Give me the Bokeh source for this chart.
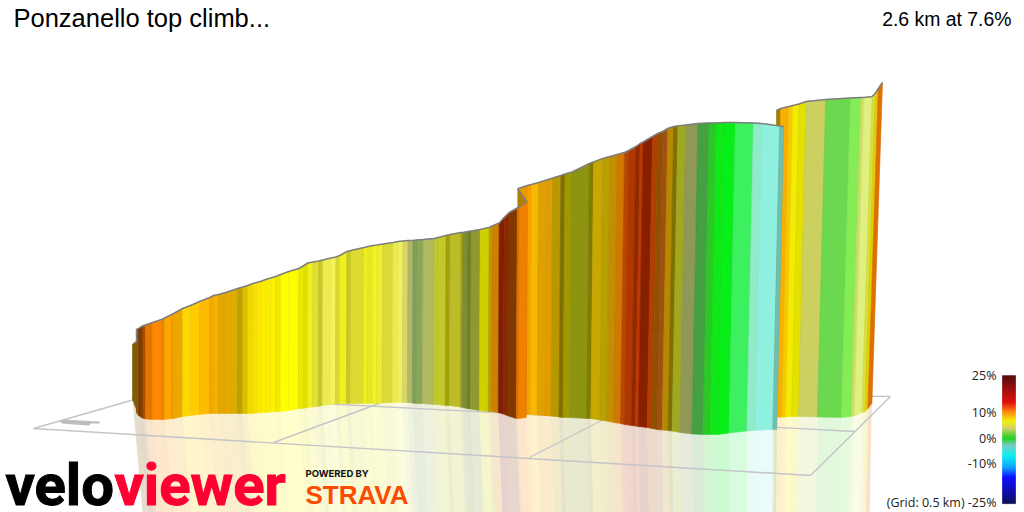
import numpy as np
from bokeh.plotting import figure
from bokeh.models import Range1d
from bokeh.core.properties import value
from bokeh.embed import file_html
from bokeh.resources import INLINE

title_text = "Ponzanello top climb..."
summary_text = "2.6 km at 7.6%"
legend_labels = ["25%", "10%", "0%", "-10%", "(Grid: 0.5 km) -25%"]
legend_label_y = [375, 412, 438, 463, 502]

# first wall section: x position, upper edge, foot, colour of strip to the right
sec1_x = [132,136,136,138,141,143,145,152,161,164,171,173,182,190,199,209,213,218,225,231,237,242,247,252,256,261,265,270,275,280,288,298,303,307,312,318,322,330,335,339,346,350,363,367,372,376,382,392,397,402,407,412,416,422,433,437,445,449,460,462,467,470,479,488,491,498,503,508,516,518,526]
sec1_top = [344,341,329,328,326,325,324.5,322,319,317.5,314,313,308,305,301,297,295,294,292,290,288,286.5,285,283,282,280.5,279,277.5,276,274,271,268,265,262.5,261.5,260.5,259.5,257.5,256.5,255,251,250,247,246,245,244.5,243.5,242,241,240.5,240,240,239.5,239,238,237,235,234,232,232,231,230.5,229,227,225.5,222.5,217,212,207.5,206.5,201]
sec1_base = [399,409,412,415,417,418,418.5,419,419,419,418,418,416,415,414,413,413,413,413,413,413,413,413,413,412.5,412,412,411.5,411,411,410,408,408,407,406.5,406,405,404,403.5,403,403,403,403,403,403,403,402.5,402,402,402,402,402.5,403,403,404,404,405,405,406.5,407,408,408.5,410,411,411,412,413.5,415.5,418,418,417]
sec1_color = ["#7A6000","#7A6000","#A05800","#7A3A00","#8A4000","#A85000","#E07800","#FF8800","#E88800","#FFA500","#F09C00","#EDA800","#FFD700","#FFCC00","#FFBB00","#EFA800","#F8B000","#E0A800","#E8A800","#D8AE00","#C0A000","#D8C000","#F0D800","#F8E000","#F8E800","#FFEE00","#F8F000","#FFF000","#F0E800","#FFFF00","#FFFC00","#E8E800","#E0E000","#F0F020","#E0E030","#C8C820","#ECEC50","#F4F458","#D8D830","#F0F020","#C8C820","#DCDC30","#F0F020","#E8E820","#F4F420","#ECEC30","#DADA38","#ECEC50","#F0F060","#D8D868","#B0B868","#80A058","#88A858","#B0B860","#C0C830","#C4C828","#A0A010","#BCBC28","#A0A018","#808C30","#707C28","#909830","#D0D000","#B8A000","#D08000","#802000","#8C2800","#803800","#E07000","#F08000"]

# second section, which starts behind the fold of the first
sec2_x = [517,526,530,537,545,551,559,563,570,587,591,600,607,614,621,625,632,636,639,648,653,658,663,669,673,681,693,704,711,719,730,748,756,774,778]
sec2_top = [188,185,184,182,179.5,177.5,175,173.5,171.5,163,161.5,158,156,154,152,150,146,143,141.5,136,133,131,128,126,125.5,124.5,123,122.5,122.5,122,122,122.5,123,125.5,126]
sec2_base = [414,414,414,414.5,415,415.5,416.5,417,417,418,418,419.5,420.5,422,423,424,425,425.5,426,427,428,429,429.5,430,430.5,432,433.5,434,434,434,432.5,430.5,430,429,429]
sec2_color = ["#E89800","#F8A000","#F8B800","#E0A000","#E09C00","#B89800","#807000","#A09800","#8C9410","#807C00","#C8A800","#B8A000","#C09000","#D07800","#B84800","#B03800","#902800","#C03800","#882000","#B04000","#905000","#A05010","#B88800","#807000","#A0A820","#909858","#44A040","#2CC828","#10E818","#08EE18","#3CF060","#90ECC8","#90F0E0","#70C0B0"]

# third section, behind the second
sec3_x = [776,775,783,787,793,800,819,843,853,856,864,867,870,874]
sec3_top = [110,108,106,105,103.5,101,99,97.5,97,97,96,93,88,82]
sec3_base = [416,417,416.5,416.5,416,416,416.5,417,416,415.5,412,411,408,403]
sec3_color = ["#A08000","#F8B000","#F8C800","#F4EC00","#E4E000","#CCD060","#6CD850","#84EC54","#C8E060","#E0F080","#D8E040","#E0D000","#E07000"]

fold_x = [517, 526, 517]
fold_y = [188, 201, 207]
fold_color = "#B08000"

# floor grid lines: [x0, y0, x1, y1]
grid_x0 = [33, 810, 33, 150, 273, 529, 890]
grid_y0 = [428, 475, 428, 394, 442, 457, 396]
grid_x1 = [810, 890, 200, 855, 400, 640, 700]
grid_y1 = [475, 396, 380, 431, 395, 400, 394]
shadow_x = [59, 63, 99, 99, 90, 89, 73, 62]
shadow_y = [421, 419, 421, 423, 423, 425, 424, 423]

# colour scale stops
bar_stop_y = [375, 390, 402, 412, 421, 428, 438, 445, 455, 467, 477, 493, 503]
bar_stop_rgb = [(74,0,0),(160,0,0),(224,0,0),(255,136,0),(240,240,0),(208,208,96),(16,208,16),(112,200,192),(0,240,240),(0,160,255),(0,0,255),(0,0,160),(0,0,80)]

p = figure(width=1024, height=512, output_backend="svg", toolbar_location=None,
           x_range=Range1d(0, 1024), y_range=Range1d(512, 0),
           min_border=0, outline_line_color=None,
           styles={"position": "absolute", "left": "0px", "top": "0px"})
p.axis.visible = False
p.grid.visible = False
p.xaxis.visible = False
p.yaxis.visible = False


def lean(x):
    return np.interp(x, [134, 525, 600, 650, 700, 780, 840, 874], [0, 1, 3, 5.5, 6, 7, 9, 10.6])


def wall(xs, tops, bases):
    xs = np.array(xs, float)
    l = lean(xs)
    return xs + 0.75 * l, np.array(tops, float), xs - 0.25 * l, np.array(bases, float)


def reflect_x(xb):
    return xb + 10 - (xb - 134) * 12 / 736


def draw_reflection(xs, tops, bases, colors, skip=0):
    xt, yt, xb, yb = wall(xs, tops, bases)
    px, py, cs = [], [], []
    for i in range(skip, len(colors)):
        if xb[i + 1] <= xb[i]:
            continue
        px.append([xb[i], xb[i + 1], reflect_x(xb[i + 1]), reflect_x(xb[i])])
        py.append([yb[i], yb[i + 1], 512, 512])
        cs.append(colors[i])
    p.patches(px, py, fill_color=cs, fill_alpha=0.2, line_color=None)


def draw_wall(xs, tops, bases, colors):
    xt, yt, xb, yb = wall(xs, tops, bases)
    px, py = [], []
    for i in range(len(colors)):
        px.append([xt[i], xt[i + 1], xb[i + 1], xb[i]])
        py.append([yt[i], yt[i + 1], yb[i + 1], yb[i]])
    p.patches(px, py, fill_color=colors, line_color=colors, line_width=0.6)
    # faint seams between strips
    p.segment(xt, yt, xb, yb, line_color="#000000", line_alpha=0.06, line_width=0.8)
    return xt, yt


# reflections, then the floor, then the walls
draw_reflection(sec3_x, sec3_top, sec3_base, sec3_color, skip=1)
draw_reflection(sec2_x, sec2_top, sec2_base, sec2_color, skip=1)
draw_reflection(sec1_x, sec1_top, sec1_base, sec1_color)

p.segment(grid_x0, grid_y0, grid_x1, grid_y1, line_color="#C4C4CA", line_width=1.4)
p.patch(shadow_x, shadow_y, fill_color="#BDBDBD", line_color=None)

# third wall with the leftmost upper corner held at its own position
x3t, y3t, x3b, y3b = wall(sec3_x, sec3_top, sec3_base)
x3t[0] = sec3_x[0]
px3 = [[x3t[i], x3t[i + 1], x3b[i + 1], x3b[i]] for i in range(len(sec3_color))]
py3 = [[y3t[i], y3t[i + 1], y3b[i + 1], y3b[i]] for i in range(len(sec3_color))]
p.patches(px3, py3, fill_color=sec3_color, line_color=sec3_color, line_width=0.6)
p.segment(x3t, y3t, x3b, y3b, line_color="#000000", line_alpha=0.06, line_width=0.8)
p.line(x3t, y3t, line_color="#7E7E7E", line_width=1.5)

x2t, y2t = draw_wall(sec2_x, sec2_top, sec2_base, sec2_color)
p.line(x2t, y2t, line_color="#7E7E7E", line_width=1.5)

p.patch(fold_x, fold_y, fill_color=fold_color, line_color=None)
x1t, y1t = draw_wall(sec1_x, sec1_top, sec1_base, sec1_color)
p.line(x1t, y1t, line_color="#7E7E7E", line_width=1.5)
p.line(fold_x[:2], fold_y[:2], line_color="#7E7E7E", line_width=1.5)

# colour scale
rows = np.arange(bar_stop_y[0], bar_stop_y[-1])
rgb = np.array(bar_stop_rgb, float)
bar_colors = ["#%02x%02x%02x" % tuple(int(np.interp(r + .5, bar_stop_y, rgb[:, k])) for k in range(3)) for r in rows]
p.quad(left=1002, right=1015, top=rows, bottom=rows + 1.2, fill_color=bar_colors, line_color=bar_colors, line_width=0.4)

p.text([996] * 5, legend_label_y, text=legend_labels, text_font=value("Open Sans"), text_font_size="12.5px",
       text_color="#222222", text_align="right", text_baseline="middle")

# headings
p.text([13], [17], text=[title_text], text_font=value("Liberation Sans"), text_font_size="25.5px",
       text_color="#000000", text_baseline="middle")
p.text([1011], [18], text=[summary_text], text_font=value("Liberation Sans"), text_font_size="19.4px",
       text_color="#000000", text_align="right", text_baseline="middle")

# branding
p.text([5], [484], text=["velo"], text_font=value("Roboto"), text_font_style="bold",
       text_font_size="58px", text_color="#000000", text_outline_color="#000000", text_baseline="middle")
p.text([114], [484], text=["viewer"], text_font=value("Roboto"), text_font_style="bold",
       text_font_size="58px", text_color="#FF0033", text_outline_color="#FF0033", text_baseline="middle")
p.text([305], [473], text=["POWERED BY"], text_font=value("Inter"), text_font_style="bold",
       text_font_size="9.5px", text_color="#111111", text_baseline="middle")
p.text([305], [494], text=["STRAVA"], text_font=value("Liberation Sans"), text_font_style="bold",
       text_font_size="26px", text_color="#FC4C02", text_baseline="middle")

open("out.html", "w").write(file_html(p, INLINE))
